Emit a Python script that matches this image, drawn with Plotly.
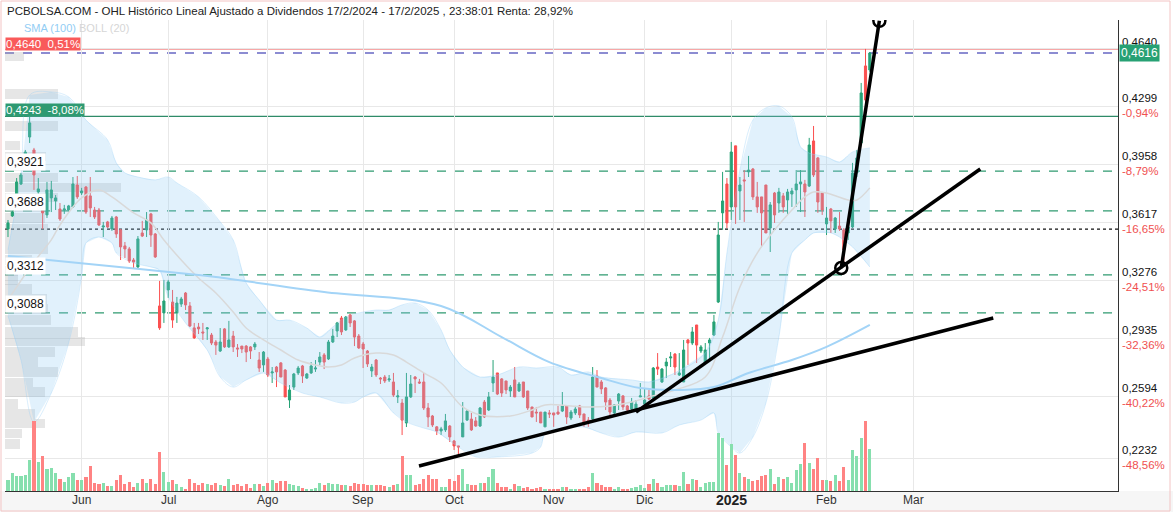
import plotly.graph_objects as go
import pandas as pd

# ---------------- data ----------------
opens = [0.3581,0.3658,0.3787,0.3846,0.3999,0.4122,0.4046,0.3799,0.3687,0.3664,
         0.3764,0.3746,0.3699,0.3693,0.3693,0.3711,0.3840,0.3793,0.3828,0.3776,
         0.3693,0.3693,0.3593,0.3623,0.3581,0.3652,0.3576,0.3482,0.3464,0.3399,
         0.3358,0.3558,0.3576,0.3670,0.3552,0.3129,0.3088,0.3223,0.3152,0.3088,
         0.3140,0.3205,0.3129,0.3000,0.3005,0.2976,0.2994,0.2958,0.2917,0.2864,
         0.2994,0.2888,0.2952,0.2882,0.2893,0.2893,0.2888,0.2888,0.2811,0.2782,
         0.2817,0.2735,0.2770,0.2794,0.2752,0.2576,0.2652,0.2735,0.2776,0.2705,
         0.2735,0.2758,0.2799,0.2841,0.2817,0.2917,0.2982,0.3058,0.2988,0.3076,
         0.3041,0.2952,0.2905,0.2864,0.2747,0.2811,0.2705,0.2711,0.2694,0.2682,
         0.2594,0.2558,0.2441,0.2594,0.2711,0.2682,0.2682,0.2529,0.2482,0.2418,
         0.2394,0.2400,0.2423,0.2335,0.2306,0.2359,0.2458,0.2464,0.2453,0.2423,
         0.2564,0.2517,0.2676,0.2735,0.2700,0.2688,0.2629,0.2694,0.2629,0.2682,
         0.2629,0.2535,0.2505,0.2505,0.2418,0.2500,0.2500,0.2505,0.2511,0.2541,
         0.2470,0.2500,0.2541,0.2494,0.2458,0.2464,0.2717,0.2682,0.2647,0.2576,
         0.2500,0.2570,0.2600,0.2541,0.2523,0.2523,0.2594,0.2552,0.2600,0.2588,
         0.2770,0.2682,0.2776,0.2823,0.2846,0.2723,0.2682,0.2929,0.2911,0.3017,
         0.2864,0.2794,0.2911,0.2958,0.3152,0.3676,0.3846,0.3711,0.4070,0.3805,
         0.3870,0.3917,0.3934,0.3770,0.3770,0.3840,0.3587,0.3793,0.3734,0.3776,
         0.3752,0.3787,0.3811,0.3846,0.3846,0.3834,0.4099,0.3999,0.3793,0.3611,
         0.3699,0.3581,0.3599,0.3576,0.3558,0.3593,0.3911,0.4087,0.4540,0.4516]
highs = [0.3634,0.3693,0.3881,0.3911,0.4046,0.4243,0.4058,0.3881,0.3705,0.3858,
         0.3864,0.3781,0.3734,0.3723,0.3723,0.3887,0.3893,0.3823,0.3834,0.3887,
         0.3711,0.3705,0.3623,0.3629,0.3658,0.3658,0.3581,0.3505,0.3476,0.3411,
         0.3540,0.3629,0.3681,0.3676,0.3558,0.3276,0.3282,0.3282,0.3223,0.3182,
         0.3182,0.3211,0.3152,0.3029,0.3029,0.3029,0.3005,0.2970,0.2929,0.2999,
         0.2999,0.3041,0.2982,0.2905,0.2893,0.2899,0.2893,0.2917,0.2858,0.2864,
         0.2829,0.2770,0.2776,0.2799,0.2758,0.2664,0.2735,0.2776,0.2782,0.2735,
         0.2799,0.2811,0.2858,0.2852,0.2929,0.2994,0.3035,0.3070,0.3070,0.3082,
         0.3046,0.2964,0.2917,0.2870,0.2788,0.2817,0.2711,0.2723,0.2723,0.2735,
         0.2635,0.2582,0.2735,0.2723,0.2717,0.2700,0.2735,0.2558,0.2488,0.2423,
         0.2418,0.2494,0.2429,0.2341,0.2306,0.2564,0.2517,0.2500,0.2476,0.2535,
         0.2576,0.2623,0.2811,0.2735,0.2705,0.2688,0.2664,0.2770,0.2682,0.2682,
         0.2629,0.2535,0.2535,0.2505,0.2505,0.2517,0.2500,0.2541,0.2623,0.2541,
         0.2517,0.2541,0.2547,0.2494,0.2476,0.2770,0.2752,0.2694,0.2652,0.2588,
         0.2552,0.2617,0.2605,0.2547,0.2588,0.2576,0.2676,0.2641,0.2635,0.2770,
         0.2852,0.2764,0.2823,0.2858,0.2852,0.2852,0.2929,0.2935,0.3005,0.3017,
         0.2899,0.2911,0.2941,0.3076,0.3623,0.3917,0.3881,0.4093,0.4070,0.3887,
         0.3928,0.4011,0.3940,0.3858,0.3770,0.3840,0.3740,0.3799,0.3823,0.3793,
         0.3817,0.3823,0.3928,0.3928,0.3870,0.4117,0.4187,0.4005,0.3799,0.3711,
         0.3705,0.3652,0.3681,0.3587,0.3623,0.3970,0.4046,0.4440,0.4640,0.4622]
lows = [0.3534,0.3652,0.3770,0.3840,0.3987,0.4087,0.3811,0.3752,0.3582,0.3646,
        0.3681,0.3693,0.3629,0.3670,0.3681,0.3705,0.3758,0.3781,0.3670,0.3652,
        0.3640,0.3599,0.3534,0.3587,0.3570,0.3529,0.3399,0.3411,0.3382,0.3352,
        0.3352,0.3534,0.3534,0.3476,0.3411,0.2988,0.3029,0.3176,0.3000,0.3029,
        0.3123,0.3105,0.3005,0.2935,0.2964,0.2929,0.2929,0.2899,0.2841,0.2858,
        0.2882,0.2882,0.2858,0.2829,0.2852,0.2799,0.2817,0.2870,0.2741,0.2741,
        0.2711,0.2676,0.2652,0.2711,0.2594,0.2529,0.2635,0.2723,0.2676,0.2700,
        0.2729,0.2741,0.2782,0.2758,0.2811,0.2911,0.2946,0.2958,0.2982,0.3005,
        0.2893,0.2876,0.2764,0.2770,0.2711,0.2711,0.2670,0.2676,0.2682,0.2594,
        0.2558,0.2370,0.2417,0.2588,0.2617,0.2670,0.2517,0.2417,0.2417,0.2370,
        0.2370,0.2388,0.2329,0.2282,0.2253,0.2359,0.2453,0.2394,0.2418,0.2418,
        0.2470,0.2511,0.2623,0.2605,0.2594,0.2611,0.2594,0.2594,0.2623,0.2588,
        0.2517,0.2476,0.2447,0.2441,0.2418,0.2470,0.2418,0.2488,0.2505,0.2435,
        0.2458,0.2488,0.2470,0.2418,0.2418,0.2458,0.2652,0.2611,0.2517,0.2476,
        0.2488,0.2517,0.2517,0.2511,0.2517,0.2517,0.2594,0.2547,0.2576,0.2576,
        0.2723,0.2676,0.2705,0.2770,0.2723,0.2717,0.2682,0.2782,0.2899,0.2794,
        0.2852,0.2788,0.2811,0.2952,0.3146,0.3576,0.3587,0.3634,0.3611,0.3634,
        0.3623,0.3887,0.3752,0.3676,0.3476,0.3558,0.3446,0.3617,0.3676,0.3676,
        0.3664,0.3711,0.3711,0.3681,0.3652,0.3828,0.3887,0.3676,0.3664,0.3546,
        0.3558,0.3558,0.3570,0.3370,0.3517,0.3587,0.3887,0.4087,0.4328,0.4505]
closes = [0.3617,0.3681,0.3858,0.3899,0.4034,0.4205,0.3899,0.3817,0.3676,0.3811,
          0.3811,0.3764,0.3640,0.3699,0.3717,0.3846,0.3770,0.3805,0.3681,0.3705,
          0.3652,0.3605,0.3599,0.3593,0.3646,0.3552,0.3476,0.3464,0.3393,0.3387,
          0.3523,0.3540,0.3634,0.3546,0.3417,0.3000,0.3158,0.3270,0.3046,0.3146,
          0.3170,0.3135,0.3011,0.2941,0.2994,0.2970,0.3000,0.2911,0.2899,0.2917,
          0.2888,0.2929,0.2888,0.2876,0.2876,0.2858,0.2864,0.2905,0.2764,0.2858,
          0.2723,0.2741,0.2741,0.2711,0.2594,0.2635,0.2729,0.2764,0.2717,0.2729,
          0.2776,0.2764,0.2829,0.2799,0.2917,0.2952,0.3029,0.2976,0.3064,0.3029,
          0.2946,0.2882,0.2876,0.2788,0.2770,0.2723,0.2700,0.2688,0.2700,0.2605,
          0.2600,0.2458,0.2594,0.2670,0.2700,0.2676,0.2529,0.2476,0.2429,0.2394,
          0.2406,0.2453,0.2359,0.2306,0.2300,0.2441,0.2511,0.2400,0.2423,0.2529,
          0.2476,0.2594,0.2711,0.2611,0.2617,0.2635,0.2652,0.2594,0.2670,0.2594,
          0.2529,0.2476,0.2500,0.2441,0.2505,0.2494,0.2488,0.2494,0.2541,0.2476,
          0.2505,0.2523,0.2488,0.2435,0.2453,0.2711,0.2652,0.2641,0.2564,0.2505,
          0.2547,0.2611,0.2535,0.2517,0.2564,0.2552,0.2600,0.2576,0.2582,0.2764,
          0.2758,0.2758,0.2799,0.2829,0.2770,0.2735,0.2870,0.2911,0.2976,0.2899,
          0.2888,0.2870,0.2929,0.3035,0.3546,0.3746,0.3617,0.4034,0.3711,0.3840,
          0.3864,0.3928,0.3770,0.3711,0.3676,0.3558,0.3723,0.3664,0.3799,0.3711,
          0.3799,0.3805,0.3846,0.3858,0.3799,0.4075,0.3899,0.3740,0.3693,0.3646,
          0.3629,0.3646,0.3581,0.3458,0.3593,0.3911,0.3999,0.4381,0.4340,0.4616]
volumes = [32,50,42,43,45,89,200,84,99,62,65,50,35,25,41,50,32,30,39,71,
           22,21,23,14,14,32,47,20,26,11,23,35,22,35,20,110,53,25,32,19,
           12,7,35,24,17,23,21,17,23,17,15,35,17,20,14,19,9,19,20,15,
           22,32,23,29,29,20,16,15,9,6,7,9,23,17,23,21,19,17,16,14,
           22,20,19,16,16,17,17,15,10,16,19,99,47,45,17,19,35,47,34,34,
           11,11,35,29,47,62,19,17,17,22,23,39,62,22,11,10,7,19,15,9,
           11,7,9,11,7,5,5,5,10,11,6,3,5,6,11,50,24,17,10,11,
           7,11,7,7,9,11,17,9,19,35,23,11,17,17,17,14,53,19,35,30,
           12,22,26,26,165,150,75,135,104,50,39,35,29,32,44,47,62,20,39,35,
           39,23,59,77,137,81,62,95,32,32,29,47,29,69,32,116,99,150,200,119]

# Bollinger (20) and SMA (100) read at sample sessions
bb_upper_idx = [0,3,5,10,14,18,23,25,27,30,34,37,39,44,49,52,55,58,62,65,69,72,75,78,82,85,88,91,94,97,
                100,102,105,109,113,118,122,127,130,134,137,144,148,154,161,164,166,169,172,175,178,181,183,185,189,192,195,199]
bb_upper = [0.3458,0.3899,0.4369,0.4387,0.4358,0.4222,0.4105,0.3970,0.3911,0.3887,0.3870,0.3887,0.3852,0.3770,0.3623,
            0.3517,0.3264,0.3164,0.3046,0.3046,0.2999,0.2946,0.3005,0.3064,0.3093,0.3105,0.3105,0.3135,0.3146,0.3105,
            0.2988,0.2870,0.2770,0.2711,0.2723,0.2770,0.2764,0.2770,0.2723,0.2741,0.2711,0.2694,0.2682,0.2735,0.2852,
            0.3046,0.3440,0.3928,0.4222,0.4293,0.4305,0.4240,0.4064,0.4028,0.4005,0.3975,0.4034,0.4058]
bb_lower_idx = [0,3,6,10,14,17,18,21,24,25,29,33,35,37,41,46,49,52,55,59,63,68,72,77,80,82,85,89,92,96,99,
                104,108,113,121,123,124,128,133,137,141,145,151,155,160,163,164,167,169,172,175,178,181,184,186,190,192,195,199]
bb_lower = [0.3070,0.2811,0.2447,0.2617,0.2911,0.3299,0.3499,0.3534,0.3499,0.3440,0.3382,0.3358,0.3340,0.3182,0.3029,
            0.2870,0.2711,0.2652,0.2694,0.2735,0.2676,0.2617,0.2594,0.2558,0.2564,0.2594,0.2617,0.2500,0.2447,0.2411,0.2388,
            0.2300,0.2241,0.2241,0.2264,0.2300,0.2382,0.2411,0.2417,0.2382,0.2358,0.2388,0.2382,0.2429,0.2458,0.2500,0.2382,
            0.2300,0.2264,0.2358,0.2558,0.2946,0.3440,0.3517,0.3558,0.3558,0.3534,0.3476,0.3358]
bb_mid_idx = [0,6,10,12,17,21,24,29,33,36,40,44,48,52,55,59,63,67,71,74,77,80,85,89,92,96,100,105,109,116,
              121,124,130,134,139,144,148,154,161,165,169,173,177,181,184,186,189,194,196,199]
bb_mid = [0.3164,0.3387,0.3517,0.3605,0.3764,0.3811,0.3770,0.3676,0.3617,0.3517,0.3399,0.3293,0.3205,0.3093,0.2999,
          0.2929,0.2870,0.2811,0.2782,0.2770,0.2782,0.2823,0.2852,0.2841,0.2799,0.2735,0.2676,0.2535,0.2488,0.2482,
          0.2517,0.2547,0.2541,0.2535,0.2541,0.2564,0.2594,0.2635,0.2711,0.2946,0.3240,0.3440,0.3576,0.3693,0.3770,
          0.3799,0.3793,0.3752,0.3752,0.3823]
sma100_idx = [0,21,44,48,73,100,114,125,137,146,155,163,171,181,189,199]
sma100 = [0.3423,0.3370,0.3311,0.3299,0.3211,0.3129,0.2946,0.2799,0.2705,0.2646,0.2635,0.2652,0.2735,0.2811,0.2888,0.3017]

# volume-at-price profile (left side)
profile_price = [0.4596,0.4375,0.4187,0.4070,0.4008,0.3952,0.3884,0.3826,0.3767,0.3708,0.3646,0.3581,0.3523,
                 0.3464,0.3399,0.3334,0.3282,0.3229,0.3170,0.3111,0.3046,0.2976,0.2920,0.2858,0.2799,0.2741,
                 0.2679,0.2623,0.2552,0.2494,0.2438,0.2379,0.2317]
profile_vol = [19,53,53,15,41,40,53,116,53,43,40,43,43,43,27,13,13,27,42,43,46,73,80,50,33,53,28,40,13,30,40,17,15]

# axis levels and labels
y_levels = [0.4640,0.4299,0.3958,0.3617,0.3276,0.2935,0.2594,0.2232]
y_pcts = ["","-0,94%","-8,79%","-16,65%","-24,51%","-32,36%","-40,22%","-48,56%"]
support_levels = [0.3921,0.3688,0.3312,0.3088]
max_price, max_pct = 0.4640, "0,51%"
mark_price, mark_pct = 0.4243, "-8,08%"
last_price = 0.4616
start_price = 0.3581
title_text = "PCBOLSA.COM - OHL Histórico Lineal Ajustado a Dividendos 17/2/2024 - 17/2/2025 , 23:38:01 Renta: 28,92%"
month_names = {1: "2025", 2: "Feb", 3: "Mar", 5: "May", 6: "Jun", 7: "Jul", 8: "Ago",
               9: "Sep", 10: "Oct", 11: "Nov", 12: "Dic"}

# hand-drawn trend lines (session index, price)
trend_lines = [(94.9, 0.2188, 227.5, 0.3058),
               (145.0, 0.2505, 224.5, 0.3934),
               (192.4, 0.3352, 201.2, 0.4805)]
circles = [(192.4, 0.3352), (201.2, 0.4805)]

# ---------------- figure ----------------
hol = {"2024-12-25", "2024-12-26", "2025-01-01"}
all_days = [d for d in pd.bdate_range("2024-05-09", "2025-03-31") if d.strftime("%Y-%m-%d") not in hol]
n = len(closes)
idx = list(range(n))
ticks = []
for i in range(1, len(all_days)):
    if all_days[i].month != all_days[i - 1].month:
        ticks.append((i, month_names[all_days[i].month]))

W, H = 1173, 512
ML, MR, MT, MB = 5, 55, 20, 21
PW, PH = W - ML - MR, H - MT - MB
xr = [-0.69, 256.3]
yr = [0.2041, 0.4810]

def px_x(p):
    return (p - ML) / PW

def px_y(p):
    return (H - MB - p) / PH

GREEN = "#26a276"
RED = "#fb5050"
fig = go.Figure()

# Bollinger fill
fig.add_trace(go.Scatter(x=bb_upper_idx + bb_lower_idx[::-1], y=bb_upper + bb_lower[::-1],
                         fill="toself", fillcolor="rgba(135,200,245,0.25)", line=dict(width=0),
                         mode="lines", hoverinfo="skip", showlegend=False))
for xs, ys in [(bb_upper_idx, bb_upper), (bb_lower_idx, bb_lower)]:
    fig.add_trace(go.Scatter(x=xs, y=ys, mode="lines", line=dict(color="rgba(150,205,245,0.35)", width=1, shape="spline"),
                             hoverinfo="skip", showlegend=False))
fig.add_trace(go.Scatter(x=bb_mid_idx, y=bb_mid, mode="lines",
                         line=dict(color="#d9d9d9", width=1.5, shape="spline"), hoverinfo="skip", showlegend=False))
fig.add_trace(go.Scatter(x=sma100_idx, y=sma100, mode="lines",
                         line=dict(color="#a3d4f7", width=2, shape="spline"), hoverinfo="skip", showlegend=False))

# volume profile
px_per_session = PW / (xr[1] - xr[0])
fig.add_trace(go.Bar(y=profile_price, x=[v / px_per_session for v in profile_vol], base=xr[0],
                     orientation="h", width=0.0054, marker=dict(color="rgba(165,165,165,0.28)", line=dict(width=0)),
                     hoverinfo="skip", showlegend=False))

# candles
fig.add_trace(go.Candlestick(x=idx, open=opens, high=highs, low=lows, close=closes,
                             increasing=dict(line=dict(color=GREEN, width=1), fillcolor=GREEN),
                             decreasing=dict(line=dict(color=RED, width=1), fillcolor=RED),
                             whiskerwidth=0, hoverinfo="skip", showlegend=False))

# volume
vcol = ["#86dfae" if c >= o else "#ff8383" for o, c in zip(opens, closes)]
fig.add_trace(go.Bar(x=idx, y=volumes, yaxis="y2", marker=dict(color=vcol, line=dict(width=0)),
                     width=0.72, hoverinfo="skip", showlegend=False))

shapes = []
# horizontal reference lines
shapes.append(dict(type="line", xref="paper", x0=0, x1=1, yref="y", y0=max_price, y1=max_price,
                   line=dict(color="#f05050", width=1.2), layer="below"))
shapes.append(dict(type="line", xref="paper", x0=0, x1=1, yref="y", y0=last_price, y1=last_price,
                   line=dict(color="#1a1aa6", width=1.2, dash="dash"), layer="below"))
shapes.append(dict(type="line", xref="paper", x0=0, x1=1, yref="y", y0=mark_price, y1=mark_price,
                   line=dict(color="#2e8b68", width=1.2), layer="below"))
for lv in support_levels:
    shapes.append(dict(type="line", xref="paper", x0=0, x1=1, yref="y", y0=lv, y1=lv,
                       line=dict(color="#2f9a70", width=1.2, dash="dash"), layer="below"))
shapes.append(dict(type="line", xref="paper", x0=0, x1=1, yref="y", y0=start_price, y1=start_price,
                   line=dict(color="#111111", width=1.2, dash="dot"), layer="below"))
# trend lines and circles
for (xa, ya, xb, yb) in trend_lines:
    shapes.append(dict(type="line", xref="x", yref="y", x0=xa, y0=ya, x1=xb, y1=yb,
                       line=dict(color="#000000", width=3.5), layer="above"))
rx = 6 / px_per_session
ry = 6 * (yr[1] - yr[0]) / PH
for (cx, cy) in circles:
    shapes.append(dict(type="circle", xref="x", yref="y", x0=cx - rx, x1=cx + rx, y0=cy - ry, y1=cy + ry,
                       line=dict(color="#000000", width=2.5), layer="above"))
# x-axis band and frame
shapes.append(dict(type="rect", xref="paper", yref="paper", x0=px_x(0), x1=px_x(W), y0=px_y(H), y1=px_y(H - MB),
                   fillcolor="#f6f6f6", line=dict(width=0), layer="below"))
shapes.append(dict(type="rect", xref="paper", yref="paper", x0=px_x(1), x1=px_x(W - 3), y0=px_y(H - 1), y1=px_y(1),
                   line=dict(color="#f3c4c4", width=1), layer="above"))

ann = []
ann.append(dict(text=title_text, xref="paper", yref="paper", x=px_x(5), y=px_y(11), xanchor="left",
                yanchor="middle", showarrow=False, font=dict(family="Arial", size=11.5, color="#222222")))
ann.append(dict(text='SMA (100) <span style="color:#d6d6d6">BOLL (20)</span>', xref="paper", yref="paper",
                x=px_x(22), y=px_y(28), xanchor="left", yanchor="middle", showarrow=False,
                font=dict(family="Arial", size=11, color="#92cdf4")))

def fmt(v):
    return f"{v:.4f}".replace(".", ",")

for lv, pc in zip(y_levels, y_pcts):
    if pc:
        txt = fmt(lv) + '<br><span style="color:#f05050">' + pc + "</span>"
        ys = 1
    else:
        txt = fmt(lv)
        ys = 7
    ann.append(dict(text=txt, xref="paper", yref="y", x=1, y=lv, xanchor="left", yanchor="middle",
                    align="left", xshift=3, yshift=ys, showarrow=False, borderpad=0,
                    font=dict(family="Arial", size=11.5, color="#111111")))
ann.append(dict(text=fmt(last_price), xref="paper", yref="y", x=1, y=last_price, xanchor="left", yanchor="middle",
                xshift=1, showarrow=False, bgcolor="#27a174", borderpad=1,
                font=dict(family="Arial", size=12, color="#ffffff")))
ann.append(dict(text=fmt(max_price) + "  " + max_pct, xref="paper", yref="y", x=0, y=max_price, xanchor="left",
                yanchor="bottom", yshift=-2, showarrow=False, bgcolor="#f95a5a", borderpad=0,
                font=dict(family="Arial", size=11.5, color="#ffffff")))
ann.append(dict(text=fmt(mark_price) + "  " + mark_pct, xref="paper", yref="y", x=0, y=mark_price, xanchor="left",
                yanchor="bottom", yshift=-1, showarrow=False, bgcolor="#2e9a72", borderpad=0,
                font=dict(family="Arial", size=11.5, color="#ffffff")))
for lv in support_levels:
    ann.append(dict(text=fmt(lv), xref="paper", yref="y", x=0, y=lv, xanchor="left", yanchor="bottom",
                    showarrow=False, bgcolor="#ffffff", borderpad=1,
                    font=dict(family="Arial", size=12, color="#111111")))
for (ti, name) in ticks:
    bold = name.isdigit()
    ann.append(dict(text=f"<b>{name}</b>" if bold else name, xref="x", yref="paper", x=ti, y=px_y(500),
                    xanchor="center", yanchor="middle", showarrow=False,
                    font=dict(family="Arial", size=14 if bold else 12, color="#222222" if bold else "#333333")))

fig.update_layout(
    width=W, height=H, margin=dict(l=ML, r=MR, t=MT, b=MB),
    paper_bgcolor="#ffffff", plot_bgcolor="#ffffff",
    showlegend=False, bargap=0, shapes=shapes, annotations=ann,
    xaxis=dict(range=xr, tickvals=[t[0] for t in ticks], showticklabels=False, ticks="",
               showgrid=True, gridcolor="#e8e8e8", zeroline=False, showline=True, linecolor="#333333",
               rangeslider=dict(visible=False), fixedrange=True),
    yaxis=dict(range=yr, tickvals=y_levels, showticklabels=False, ticks="", side="right",
               showgrid=True, gridcolor="#e8e8e8", zeroline=False, showline=True, linecolor="#333333",
               fixedrange=True),
    yaxis2=dict(range=[0, 1343], overlaying="y", visible=False, fixedrange=True),
)

fig.write_html("out.html")
